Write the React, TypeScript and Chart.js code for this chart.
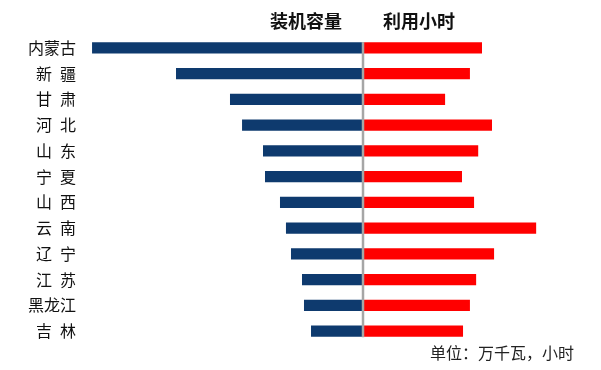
import React, { useEffect, useRef } from "react";
import { Chart, registerables } from "chart.js";

Chart.register(...registerables);

const categories = ["内蒙古", "新\u2002疆", "甘\u2002肃", "河\u2002北", "山\u2002东", "宁\u2002夏", "山\u2002西", "云\u2002南", "辽\u2002宁", "江\u2002苏", "黑龙江", "吉\u2002林"];
const capacity = [2585, 1784, 1269, 1154, 954, 935, 792, 735, 687, 582, 563, 496];
const hours = [1725, 1550, 1190, 1870, 1670, 1435, 1610, 2510, 1900, 1640, 1550, 1450];
const seriesNames = ["装机容量", "利用小时"];
const unitNote = "单位：万千瓦，小时";

const CJK = '"Noto Sans CJK SC", "Noto Sans", sans-serif';

const overlay = {
  id: "overlay",
  afterDatasetsDraw(chart: any) {
    const { ctx, scales } = chart;
    const cx = scales.xR.getPixelForValue(0);
    const y = scales.y;
    const top = y.getPixelForValue(0) - 6;
    const bottom = y.getPixelForValue(categories.length - 1) + 6;
    ctx.save();
    ctx.strokeStyle = "#a6a6a6";
    ctx.lineWidth = 2.5;
    ctx.beginPath();
    ctx.moveTo(cx, top);
    ctx.lineTo(cx, bottom);
    ctx.stroke();

    ctx.fillStyle = "#111111";
    ctx.font = "bold 18px " + CJK;
    ctx.textBaseline = "middle";
    ctx.textAlign = "right";
    ctx.fillText(seriesNames[0], cx - 21, 21);
    ctx.textAlign = "left";
    ctx.fillText(seriesNames[1], cx + 20, 21);

    ctx.font = "16px " + CJK;
    ctx.fillStyle = "#222222";
    ctx.textAlign = "right";
    ctx.fillText(unitNote, 574, 353);
    ctx.restore();
  },
};

export default function App() {
  const ref = useRef<HTMLCanvasElement | null>(null);
  useEffect(() => {
    document.body.style.margin = "0";
    const leftW = 283;
    const rightW = 218;
    const chart = new Chart(ref.current as HTMLCanvasElement, {
      type: "bar",
      data: {
        labels: categories,
        datasets: [
          {
            label: seriesNames[0],
            data: capacity,
            xAxisID: "xL",
            backgroundColor: "#0e3a6e",
            grouped: false,
            barPercentage: 0.43,
            categoryPercentage: 1,
          },
          {
            label: seriesNames[1],
            data: hours,
            xAxisID: "xR",
            backgroundColor: "#ff0000",
            grouped: false,
            barPercentage: 0.43,
            categoryPercentage: 1,
          },
        ],
      },
      options: {
        indexAxis: "y",
        animation: false,
        responsive: false,
        maintainAspectRatio: false,
        layout: { padding: { top: 35, bottom: 26, left: 0, right: 20 } },
        plugins: { legend: { display: false }, tooltip: { enabled: false }, title: { display: false } },
        scales: {
          xL: {
            type: "linear",
            position: "bottom",
            stack: "split",
            stackWeight: leftW,
            reverse: true,
            min: 0,
            max: 2700,
            display: false,
          },
          xR: {
            type: "linear",
            position: "bottom",
            stack: "split",
            stackWeight: rightW,
            min: 0,
            max: 3160,
            display: false,
          },
          y: {
            type: "category",
            grid: { display: false, drawTicks: false },
            border: { display: false },
            afterFit: (s: any) => {
              s.width = 80;
            },
            ticks: {
              padding: 4,
              color: "#111111",
              font: { family: CJK, size: 16 },
              autoSkip: false,
            },
          },
        },
      },
      plugins: [overlay],
    });
    return () => chart.destroy();
  }, []);
  return (
    <div style={{ width: 601, height: 370 }}>
      <canvas ref={ref} width={601} height={370} />
    </div>
  );
}
